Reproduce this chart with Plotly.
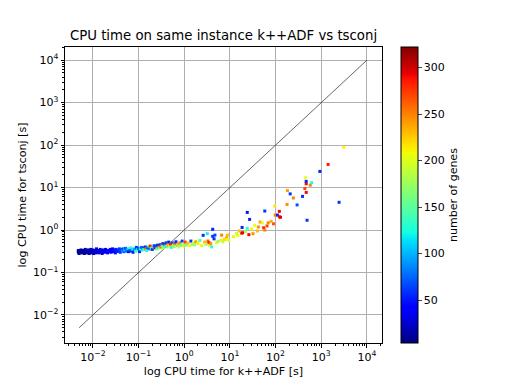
import plotly.graph_objects as go

# CPU time (s) of k++ADF, CPU time (s) of tsconj, number of genes
kadf_time = [
    0.0048, 0.0048, 0.0050, 0.0052, 0.0055, 0.0055, 0.0058, 0.0060, 0.0062, 0.0065, 0.0065, 0.0068,
    0.0070, 0.0072, 0.0075, 0.0078, 0.0080, 0.0083, 0.0085, 0.0088, 0.0090, 0.0093, 0.0096, 0.0100,
    0.0100, 0.0104, 0.0108, 0.0110, 0.0115, 0.0120, 0.0120, 0.0125, 0.0130, 0.0135, 0.0140, 0.0145,
    0.0150, 0.0155, 0.0160, 0.0165, 0.0170, 0.0180, 0.0185, 0.0190, 0.0200,
    0.021, 0.022, 0.023, 0.024, 0.025, 0.026, 0.027, 0.028, 0.029, 0.030, 0.031, 0.032, 0.034,
    0.035, 0.036, 0.038, 0.040, 0.041, 0.043, 0.045, 0.046, 0.048, 0.050, 0.052, 0.055, 0.058,
    0.060, 0.062, 0.065, 0.068, 0.070, 0.073, 0.076, 0.080, 0.083, 0.086, 0.090, 0.094, 0.098,
    0.100, 0.105, 0.110, 0.115, 0.120, 0.125, 0.130, 0.140, 0.145, 0.150, 0.160, 0.170, 0.175,
    0.180, 0.190, 0.200, 0.210, 0.220, 0.230, 0.240, 0.250, 0.260, 0.270, 0.280, 0.290,
    0.30, 0.31, 0.33, 0.34, 0.35, 0.37, 0.38, 0.40, 0.42, 0.44, 0.46, 0.48, 0.50, 0.52, 0.55,
    0.58, 0.60, 0.63, 0.66, 0.70, 0.73, 0.76, 0.80, 0.85, 0.90, 0.95, 1.00, 1.05, 1.10, 1.20,
    1.30, 1.40, 1.50,
    1.6, 1.7, 1.8, 2.0, 2.2, 2.4, 2.6, 2.8, 3.0, 3.2, 3.3, 3.5, 3.6, 3.8, 4.2, 4.2, 4.5, 4.7,
    4.0, 5.1, 5.5, 6.3, 6.6, 7.0, 7.5, 8.5, 8.8, 8.6, 9.5,
    14, 15, 18, 19, 18.5, 24, 26, 32, 35, 42, 46, 51, 55, 58, 69, 24, 27, 58, 96, 98, 110, 121,
    121, 128, 12, 16, 22, 30, 40, 65, 80, 90,
    178, 182, 209, 245, 296, 389, 437, 468, 468, 447, 468, 575, 617, 933, 1413, 2455, 489, 3100,
]
tsconj_time = [
    0.30, 0.33, 0.28, 0.32, 0.30, 0.34, 0.29, 0.31, 0.33, 0.28, 0.31, 0.35,
    0.30, 0.32, 0.29, 0.34, 0.31, 0.28, 0.33, 0.30, 0.35, 0.29, 0.32, 0.30,
    0.34, 0.28, 0.31, 0.33, 0.29, 0.32, 0.36, 0.30, 0.33, 0.29, 0.31, 0.35,
    0.30, 0.33, 0.28, 0.31, 0.34, 0.30, 0.32, 0.35, 0.31,
    0.29, 0.33, 0.31, 0.35, 0.30, 0.33, 0.36, 0.31, 0.34, 0.32, 0.29, 0.35, 0.31,
    0.34, 0.32, 0.36, 0.30, 0.33, 0.35, 0.32, 0.36, 0.31, 0.34, 0.37, 0.32, 0.35,
    0.31, 0.36, 0.33, 0.38, 0.32, 0.35, 0.30, 0.37, 0.34, 0.32, 0.39, 0.35, 0.33,
    0.37, 0.31, 0.36, 0.39, 0.34, 0.38, 0.35, 0.40, 0.36, 0.33, 0.38, 0.41, 0.36,
    0.42, 0.37, 0.35, 0.40, 0.43, 0.38, 0.41, 0.36, 0.44, 0.39, 0.42, 0.38,
    0.45, 0.40, 0.43, 0.48, 0.38, 0.46, 0.42, 0.50, 0.40, 0.45, 0.52, 0.42, 0.47, 0.39, 0.50,
    0.44, 0.41, 0.48, 0.53, 0.43, 0.46, 0.40, 0.50, 0.44, 0.55, 0.42, 0.47, 0.52, 0.44, 0.49,
    0.43, 0.55, 0.46,
    0.50, 0.45, 0.53, 0.48, 0.57, 0.43, 0.75, 0.52, 0.46, 0.82, 0.55, 0.50, 0.44, 0.48, 1.04, 0.71, 0.62, 0.76,
    0.40, 0.50, 0.54, 0.57, 0.76, 0.53, 0.60, 0.66, 0.76, 0.60, 0.58,
    0.82, 0.75, 0.85, 0.86, 1.15, 1.10, 0.78, 0.82, 1.29, 1.18, 1.54, 1.48, 1.13, 1.00, 1.48, 2.6, 1.78, 2.8, 3.7, 2.25, 2.25, 2.75,
    2.05, 2.00, 0.70, 0.95, 0.92, 1.05, 0.95, 1.25, 1.6, 1.4,
    4.0, 8.5, 7.1, 5.7, 3.9, 6.2, 9.5, 12.3, 7.7, 17, 14, 11.4, 13, 24, 35, 4.5, 1.7, 89,
]
n_genes = [
    8, 10, 9, 12, 10, 14, 11, 13, 12, 15, 10, 16,
    14, 18, 12, 17, 15, 19, 20, 16, 22, 18, 21, 20,
    24, 19, 23, 25, 22, 26, 28, 24, 27, 25, 29, 30,
    28, 31, 27, 32, 33, 30, 34, 35, 33,
    36, 38, 40, 37, 42, 45, 44, 40, 48, 50, 46, 52, 55,
    58, 54, 60, 57, 62, 65, 100, 68, 70, 110, 72, 75, 105,
    45, 120, 60, 130, 55, 115, 50, 140, 65, 125, 60, 110, 150,
    70, 55, 135, 80, 118, 62, 145, 58, 260, 128, 66, 140, 75,
    280, 160, 58, 120, 70, 300, 62, 150, 55, 130, 290, 170,
    60, 250, 140, 65, 180, 300, 120, 60, 160, 240, 55, 200, 280, 130, 70,
    220, 170, 260, 58, 150, 230, 190, 250, 140, 62, 210, 180, 270, 160, 230,
    200, 60, 175,
    190, 170, 240, 210, 150, 200, 60, 230, 180, 120, 260, 290, 200, 245, 55, 60, 58, 65,
    130, 205, 170, 210, 250, 190, 220, 240, 230, 205, 200,
    190, 205, 285, 295, 55, 130, 290, 245, 205, 245, 240, 200, 285, 250, 250, 50, 55, 60, 215, 250, 55, 290,
    290, 295, 210, 230, 180, 210, 230, 270, 235, 265,
    245, 240, 60, 250, 70, 60, 270, 290, 290, 205, 55, 250, 125, 55, 285, 60, 60, 210,
]
diag = [0.005, 10000]

# matplotlib 'jet'
jet = [
    [0.0, 'rgb(0,0,128)'], [0.11, 'rgb(0,0,255)'], [0.125, 'rgb(0,0,255)'],
    [0.34, 'rgb(0,219,255)'], [0.35, 'rgb(0,230,247)'], [0.375, 'rgb(21,255,226)'],
    [0.64, 'rgb(239,255,8)'], [0.65, 'rgb(247,245,0)'], [0.66, 'rgb(255,236,0)'],
    [0.89, 'rgb(255,19,0)'], [0.91, 'rgb(232,0,0)'], [1.0, 'rgb(128,0,0)'],
]

exp_vals = [1e-2, 1e-1, 1, 10, 100, 1000, 10000]
exp_text = ['10<sup>−2</sup>', '10<sup>−1</sup>', '10<sup>0</sup>', '10<sup>1</sup>',
            '10<sup>2</sup>', '10<sup>3</sup>', '10<sup>4</sup>']

# the page body adds an 8px offset, so margins are shifted to compensate
OFF = 7

fig = go.Figure()

fig.add_trace(go.Scatter(
    x=diag, y=diag, mode='lines',
    line=dict(color='black', width=0.6), hoverinfo='skip', showlegend=False
))

fig.add_trace(go.Scatter(
    x=kadf_time, y=tsconj_time, mode='markers', showlegend=False,
    marker=dict(
        size=3, symbol='square', color=n_genes, colorscale=jet, cmin=4, cmax=322,
        line=dict(width=0),
        colorbar=dict(
            x=(400 - 64) / 317, xanchor='left', y=0.5, yanchor='middle',
            len=1, lenmode='fraction', thickness=17, xpad=0, ypad=0,
            outlinecolor='black', outlinewidth=1,
            tickvals=[50, 100, 150, 200, 250, 300], ticks='outside', ticklen=3.5,
            tickfont=dict(size=11, color='black'),
            title=dict(text='number of genes', side='right', font=dict(size=11, color='black')),
        ),
    ),
))

axis_common = dict(
    type='log', showgrid=True, gridcolor='#b0b0b0', gridwidth=1,
    showline=True, linecolor='black', linewidth=1, mirror=True,
    ticks='outside', ticklen=3.5, tickcolor='black',
    tickvals=exp_vals, ticktext=exp_text, zeroline=False, automargin=False,
    tickfont=dict(size=11, color='black'),
    minor=dict(ticks='outside', ticklen=2, tickcolor='black', showgrid=False, dtick='D1'),
)

fig.update_xaxes(axis_common, range=[-2.61, 4.33],
                 title=dict(text='log CPU time for k++ADF [s]', font=dict(size=11.1, color='black'), standoff=4))
fig.update_yaxes(axis_common, range=[-2.66, 4.31],
                 title=dict(text='log CPU time for tsconj [s]', font=dict(size=11.1, color='black'), standoff=4))

fig.update_layout(
    width=512, height=384,
    margin=dict(l=64 - OFF, r=131 + OFF, t=46 - OFF, b=42 + OFF, autoexpand=False),
    paper_bgcolor='white', plot_bgcolor='white',
    font=dict(family='DejaVu Sans', color='black'),
    title=dict(text='CPU time on same instance k++ADF vs tsconj', x=0.5, xref='paper', xanchor='center',
               y=1 - (34 - OFF) / 384, yref='container', yanchor='middle',
               font=dict(size=13.3, color='black')),
)

fig.write_html('out.html')
